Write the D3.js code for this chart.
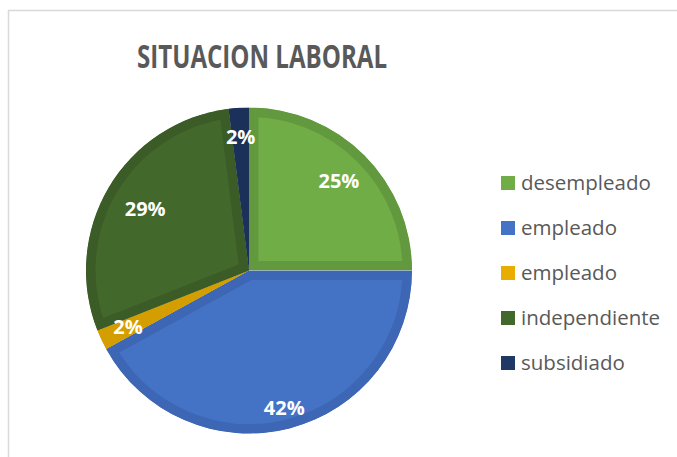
<!DOCTYPE html>
<html>
<head>
<meta charset="utf-8">
<script src="https://cdn.jsdelivr.net/npm/d3@7"></script>
<style>
  body { margin: 0; background: #fff; }
  text { font-family: "Open Sans", "Noto Sans", sans-serif; }
</style>
</head>
<body>
<div id="chart"></div>
<script>
// Data
var categories = ["desempleado", "empleado", "empleado", "independiente", "subsidiado"];
var values = [25, 42, 2, 29, 2];
var fills = ["#70AD47", "#4472C4", "#E8AD00", "#43682B", "#203864"];
var edges = ["#62993E", "#3D66B4", "#D49E00", "#3B5C26", "#1C3159"];
// label distance from centre, as a fraction of the radius
var labelPos = [0.78, 0.87, 0.82, 0.74, 0.82];

var svgWidth = 677;
var svgHeight = 457;
var cx = 249, cy = 270.5, radius = 163;

var svg = d3.select("#chart")
    .append("svg")
    .attr("width", svgWidth)
    .attr("height", svgHeight);

// chart frame (top and left edges visible)
svg.append("path")
    .attr("d", "M8.5," + svgHeight + " V10.5 H" + svgWidth)
    .attr("fill", "none")
    .attr("stroke", "#D9D9D9")
    .attr("stroke-width", 1.5);

// title
svg.append("text")
    .attr("x", 262)
    .attr("y", 68)
    .attr("text-anchor", "middle")
    .attr("font-size", 32)
    .attr("font-weight", "bold")
    .attr("fill", "#595959")
    .attr("textLength", 250)
    .attr("lengthAdjust", "spacingAndGlyphs")
    .text("SITUACION LABORAL");

var slices = categories.map(function(c, i) {
    return { name: c, value: values[i], fill: fills[i], edge: edges[i], lp: labelPos[i] };
});

var pie = d3.pie()
    .sort(null)
    .value(d => d.value);

var arc = d3.arc()
    .innerRadius(0)
    .outerRadius(radius);

var arcs = pie(slices);

var pieGroup = svg.append("g")
    .attr("transform", `translate(${cx}, ${cy})`);

var defs = svg.append("defs");
defs.selectAll("clipPath")
    .data(arcs)
    .enter()
    .append("clipPath")
    .attr("id", (d, i) => "clip" + i)
    .append("path")
    .attr("d", arc);

// each slice gets a darker inner band, like the spreadsheet style
pieGroup.selectAll("path.slice")
    .data(arcs)
    .enter()
    .append("path")
    .attr("class", "slice")
    .attr("d", arc)
    .attr("fill", d => d.data.fill)
    .attr("stroke", d => d.data.edge)
    .attr("stroke-width", 19)
    .attr("stroke-linejoin", "miter")
    .attr("clip-path", (d, i) => `url(#clip${i})`);

// labels
pieGroup.selectAll("text.pct")
    .data(arcs)
    .enter()
    .append("text")
    .attr("class", "pct")
    .attr("x", d => Math.sin((d.startAngle + d.endAngle) / 2) * radius * d.data.lp)
    .attr("y", d => -Math.cos((d.startAngle + d.endAngle) / 2) * radius * d.data.lp)
    .attr("dy", "0.35em")
    .attr("text-anchor", "middle")
    .attr("font-size", 20)
    .attr("font-weight", "bold")
    .attr("fill", "#fff")
    .text(d => d.data.value + "%");

// legend
var legend = svg.append("g")
    .attr("transform", "translate(501, 183)");

var rows = legend.selectAll("g")
    .data(slices)
    .enter()
    .append("g")
    .attr("transform", (d, i) => `translate(0, ${i * 45})`);

rows.append("rect")
    .attr("x", 0)
    .attr("y", -7)
    .attr("width", 14)
    .attr("height", 14)
    .attr("fill", d => d.fill);

rows.append("text")
    .attr("x", 20)
    .attr("y", 0)
    .attr("dy", "0.36em")
    .attr("font-size", 20.5)
    .attr("fill", "#595959")
    .text(d => d.name);
</script>
</body>
</html>
